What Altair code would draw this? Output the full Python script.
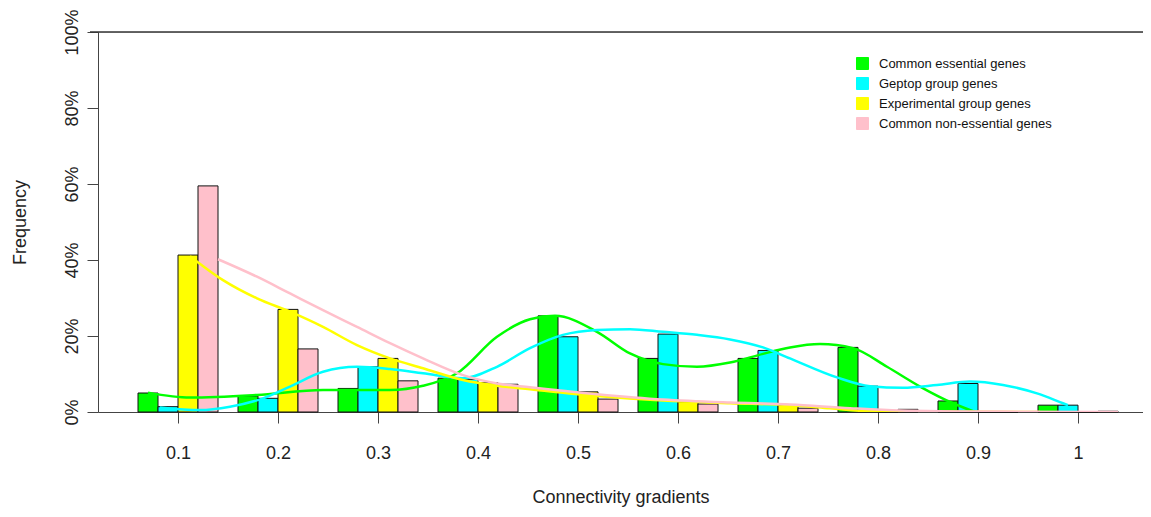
import altair as alt
import pandas as pd

# ---- data (percent) ----
gradients = [0.1, 0.2, 0.3, 0.4, 0.5, 0.6, 0.7, 0.8, 0.9, 1.0]
series_names = ["Common essential genes", "Geptop group genes",
                "Experimental group genes", "Common non-essential genes"]
series_colors = ["#00FF00", "#00FFFF", "#FFFF00", "#FFC0CB"]
bar_offsets = [-0.04, -0.02, 0.0, 0.02]
bar_width = 0.02

common_essential = [5.0, 4.2, 6.2, 8.9, 25.3, 14.1, 14.1, 17.0, 2.9, 1.8]
geptop_group = [1.4, 3.6, 11.9, 8.6, 19.8, 20.5, 16.2, 6.8, 7.5, 1.8]
experimental_group = [41.3, 27.0, 14.1, 7.7, 5.3, 2.7, 1.8, 0.0, 0.0, 0.0]
common_non_essential = [59.5, 16.6, 8.2, 7.3, 3.4, 2.1, 1.0, 0.7, 0.0, 0.2]

# smoothed curves
green_curve_x = [0.070, 0.112, 0.179, 0.245, 0.312, 0.345, 0.379, 0.419, 0.452, 0.477,
                 0.519, 0.552, 0.585, 0.619, 0.652, 0.685, 0.712, 0.742, 0.775, 0.809,
                 0.842, 0.875, 0.897]
green_curve_y = [5.1, 3.8, 4.5, 5.8, 5.8, 6.9, 10.2, 19.8, 24.4, 25.3,
                 21.1, 15.4, 12.6, 11.9, 13.0, 15.3, 17.0, 17.9, 16.8, 11.9,
                 6.7, 2.3, 0.0]
cyan_curve_x = [0.082, 0.122, 0.152, 0.185, 0.212, 0.245, 0.279, 0.312, 0.345, 0.385,
                0.419, 0.452, 0.485, 0.519, 0.552, 0.585, 0.619, 0.652, 0.685, 0.712,
                0.759, 0.792, 0.825, 0.859, 0.892, 0.925, 0.959, 0.985, 0.990]
cyan_curve_y = [1.2, 0.5, 1.4, 3.6, 6.7, 10.6, 11.9, 11.3, 10.2, 8.9,
                11.9, 16.8, 20.3, 21.6, 21.8, 21.1, 20.3, 19.1, 17.0, 14.1,
                9.1, 6.8, 6.4, 7.1, 8.0, 7.1, 4.9, 2.3, 1.8]
yellow_curve_x = [0.112, 0.145, 0.179, 0.212, 0.245, 0.279, 0.312, 0.345, 0.385, 0.419,
                  0.452, 0.519, 0.585, 0.652, 0.712, 0.752, 0.792, 0.962]
yellow_curve_y = [41.0, 34.7, 29.9, 26.4, 22.4, 17.6, 14.1, 11.5, 8.4, 6.9,
                  6.0, 4.2, 3.0, 2.3, 1.8, 1.0, 0.2, 0.0]
pink_curve_x = [0.140, 0.179, 0.212, 0.245, 0.279, 0.312, 0.345, 0.385, 0.419, 0.452,
                0.519, 0.585, 0.652, 0.712, 0.772, 0.822, 0.922, 1.040]
pink_curve_y = [40.2, 35.6, 31.2, 26.8, 22.4, 18.1, 14.1, 9.7, 7.5, 6.5,
                4.7, 3.3, 2.5, 2.0, 1.0, 0.4, 0.1, 0.0]

y_ticks = [0, 20, 40, 60, 80, 100]

# ---- tables ----
bar_values = [common_essential, geptop_group, experimental_group, common_non_essential]
bar_rows = []
for name, off, vals in zip(series_names, bar_offsets, bar_values):
    for g, v in zip(gradients, vals):
        bar_rows.append({"series": name, "x0": g + off, "x1": g + off + bar_width,
                         "freq": v, "zero": 0.0})
bars_df = pd.DataFrame(bar_rows)

curves = [(green_curve_x, green_curve_y), (cyan_curve_x, cyan_curve_y),
          (yellow_curve_x, yellow_curve_y), (pink_curve_x, pink_curve_y)]
line_rows = []
for name, (cx, cy) in zip(series_names, curves):
    for i, (a, b) in enumerate(zip(cx, cy)):
        line_rows.append({"series": name, "x": a, "y": b, "i": i})
lines_df = pd.DataFrame(line_rows)

W, H = 1045, 380
FONT = "Liberation Sans"

x_scale = alt.Scale(domain=[0.02, 1.065], nice=False, zero=False)
y_scale = alt.Scale(domain=[0, 100], nice=False)

bars = alt.Chart(bars_df).mark_rect(stroke="#111111", strokeWidth=1).encode(
    x=alt.X("x0:Q", scale=x_scale,
            axis=alt.Axis(values=gradients, format=".1~f", title="Connectivity gradients",
                          grid=False, tickSize=11, labelPadding=21, titlePadding=26,
                          labelFontSize=18, titleFontSize=18, labelFont=FONT, titleFont=FONT,
                          titleFontWeight="normal", labelColor="#222222", titleColor="#222222",
                          domainColor="#444444", tickColor="#444444", labelFlush=False)),
    x2="x1:Q",
    y=alt.Y("freq:Q", scale=y_scale,
            axis=alt.Axis(values=y_ticks, labelExpr="datum.value + '%'", title="Frequency",
                          grid=False, tickSize=11, labelAngle=270, labelAlign="center",
                          labelBaseline="bottom", labelPadding=6, titlePadding=34,
                          labelFontSize=18, titleFontSize=18, labelFont=FONT, titleFont=FONT,
                          titleFontWeight="normal", labelColor="#222222", titleColor="#222222",
                          domainColor="#444444", tickColor="#444444", labelFlush=False)),
    y2="zero:Q",
    color=alt.Color("series:N", scale=alt.Scale(domain=series_names, range=series_colors),
                    legend=alt.Legend(title=None, orient="none", legendX=758, legendY=25,
                                      symbolType="square", symbolSize=144,
                                      symbolStrokeColor="#111111", symbolStrokeWidth=1,
                                      symbolOpacity=1, labelFontSize=13, labelFont=FONT,
                                      labelColor="#111111", rowPadding=3, labelOffset=10,
                                      labelLimit=0)),
)

lines = alt.Chart(lines_df).mark_line(strokeWidth=2.5, interpolate="monotone", clip=True).encode(
    x=alt.X("x:Q", scale=x_scale),
    y=alt.Y("y:Q", scale=y_scale),
    stroke=alt.Stroke("series:N", scale=alt.Scale(domain=series_names, range=series_colors),
                      legend=None),
    detail="series:N",
    order="i:Q",
)

top_frame = alt.Chart(pd.DataFrame({"a": [0]})).mark_rule(color="#333333", strokeWidth=1.5).encode(
    x=alt.value(-8), x2=alt.value(W), y=alt.value(0)
)

chart = alt.layer(bars, lines, top_frame).properties(
    width=W, height=H,
    autosize=alt.AutoSizeParams(type="none"),
    padding={"left": 90, "top": 24, "right": 0, "bottom": 95},
).configure_view(stroke=None).configure(background="white")

chart.save("out.html", embed_options={"renderer": "svg", "actions": False})
